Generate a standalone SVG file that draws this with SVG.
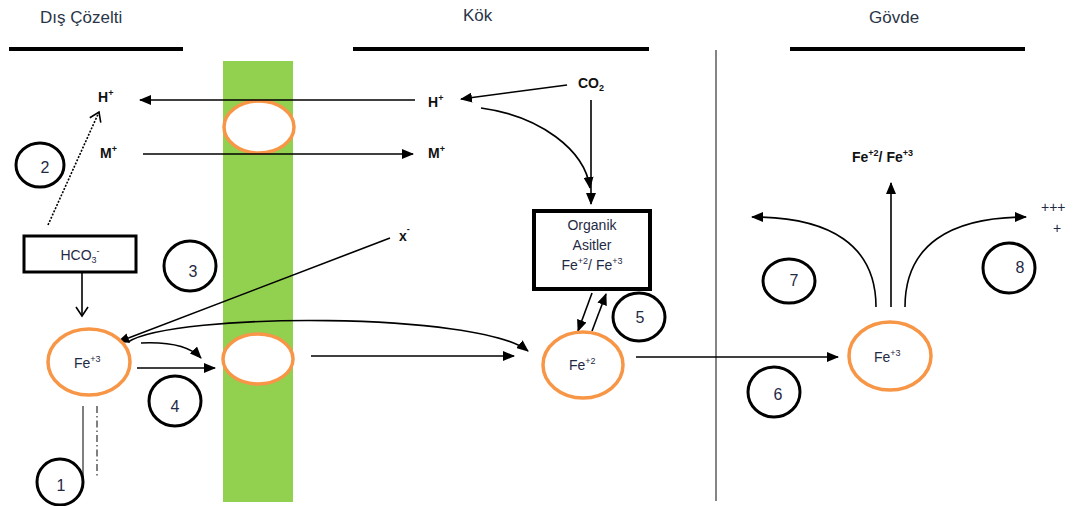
<svg xmlns="http://www.w3.org/2000/svg" width="1073" height="506" viewBox="0 0 1073 506">
<defs>
<style>
.title{font-family:"Liberation Sans",Arial,sans-serif;font-size:17px;fill:#2a3547}
.lbl{font-family:"Liberation Sans",Arial,sans-serif;font-size:14px;fill:#1f2a44}
.bold{font-family:"Liberation Sans",Arial,sans-serif;font-size:14px;font-weight:bold;fill:#111}
.num{font-family:"Liberation Sans",Arial,sans-serif;font-size:16px;fill:#1f2a44;text-anchor:middle}
.sup{font-size:9px}
.hdr{stroke:#000;stroke-width:4}
.cell{fill:#fff;stroke:#f79646;stroke-width:3.5}
.ring{fill:none;stroke:#000;stroke-width:3}
.ln{fill:none;stroke:#000;stroke-width:1.6}
.box{fill:#fff;stroke:#000}
</style>
<marker id="ah" markerUnits="userSpaceOnUse" markerWidth="12" markerHeight="10" refX="11" refY="5" orient="auto">
<path d="M0,0 L12,5 L0,10 z" fill="#000"/>
</marker>
<marker id="open" markerUnits="userSpaceOnUse" markerWidth="12" markerHeight="14" refX="10" refY="7" orient="auto">
<path d="M1,1 L10,7 L1,13" fill="none" stroke="#000" stroke-width="1.6"/>
</marker>
</defs>
<rect width="1073" height="506" fill="#fff"/>

<g id="headers">
<text class="title" x="40" y="23">Dış Çözelti</text>
<text class="title" x="463" y="21">Kök</text>
<text class="title" x="869" y="23">Gövde</text>
<line class="hdr" x1="9" y1="49" x2="183" y2="49"/>
<line class="hdr" x1="353" y1="49" x2="649" y2="49"/>
<line class="hdr" x1="790" y1="49" x2="1025" y2="49"/>
<line x1="716" y1="50" x2="716" y2="501" stroke="#333" stroke-width="1.2"/>
</g>

<g id="membrane">
<rect x="223" y="61" width="70" height="441" fill="#92d050"/>
</g>

<g id="channel-top"><ellipse class="cell" cx="259" cy="127" rx="35" ry="26"/></g>
<g id="channel-bottom"><ellipse class="cell" cx="258" cy="359" rx="35" ry="25"/></g>

<g id="connectors">
<line class="ln" x1="415" y1="100" x2="140" y2="100" marker-end="url(#ah)"/>
<line class="ln" x1="143" y1="154" x2="413" y2="154" marker-end="url(#ah)"/>
<line class="ln" x1="567" y1="85" x2="461" y2="99" marker-end="url(#ah)"/>
<path class="ln" d="M481,108 C540,116 585,150 590,188" marker-end="url(#ah)"/>
<line class="ln" x1="591" y1="100" x2="591" y2="204" marker-end="url(#ah)"/>
<line class="ln" x1="390" y1="238" x2="118" y2="342" marker-end="url(#ah)"/>
<line x1="48" y1="225" x2="99" y2="112" stroke="#000" stroke-width="1.6" stroke-dasharray="2,1.5" marker-end="url(#open)"/>
<line class="ln" x1="82" y1="272" x2="82" y2="316" marker-end="url(#open)"/>
<path class="ln" d="M141,343 Q185,341 201,358" marker-end="url(#ah)"/>
<line class="ln" x1="137" y1="368" x2="215" y2="368" marker-end="url(#ah)"/>
<path class="ln" d="M128,342 C175,312 480,312 528,351" marker-end="url(#ah)"/>
<line class="ln" x1="311" y1="356" x2="514" y2="356" marker-end="url(#ah)"/>
<line class="ln" x1="592" y1="293" x2="578" y2="331" marker-end="url(#ah)"/>
<line class="ln" x1="592" y1="331" x2="606" y2="294" marker-end="url(#ah)"/>
<line class="ln" x1="636" y1="357" x2="838" y2="357" marker-end="url(#ah)"/>
<line class="ln" x1="891" y1="307" x2="891" y2="183" marker-end="url(#ah)"/>
<path class="ln" d="M876,307 C876,245 830,217 752,217" marker-end="url(#ah)"/>
<path class="ln" d="M905,307 C905,245 950,217 1026,217" marker-end="url(#ah)"/>
<line x1="83" y1="406" x2="83" y2="477" stroke="#000" stroke-width="1"/>
<line x1="97" y1="406" x2="97" y2="476" stroke="#000" stroke-width="1" stroke-dasharray="7,3,1.5,3"/>
</g>

<g id="ion-labels">
<text class="bold" x="98" y="102">H<tspan class="sup" dy="-6">+</tspan></text>
<text class="bold" x="100" y="158">M<tspan class="sup" dy="-6">+</tspan></text>
<text class="bold" x="428" y="107">H<tspan class="sup" dy="-6">+</tspan></text>
<text class="bold" x="428" y="158">M<tspan class="sup" dy="-6">+</tspan></text>
<text class="bold" x="578" y="88">CO<tspan class="sup" dy="3">2</tspan></text>
<text class="bold" x="399" y="241">x<tspan class="sup" dy="-9">-</tspan></text>
<text class="bold" x="852" y="162" font-size="13">Fe<tspan class="sup" dy="-6">+2</tspan><tspan dy="6">/ Fe</tspan><tspan class="sup" dy="-6">+3</tspan></text>
<text class="lbl" x="1041" y="212" font-size="15" fill="#111">+++</text>
<text class="lbl" x="1053" y="233" font-size="15" fill="#111">+</text>
</g>

<g id="hco3">
<rect class="box" x="24" y="236" width="112" height="36" stroke-width="3"/>
<text class="lbl" x="80" y="260" text-anchor="middle">HCO<tspan class="sup" dy="3">3</tspan><tspan class="sup" dy="-9">-</tspan></text>
</g>

<g id="organik">
<rect class="box" x="534" y="211" width="116" height="78" stroke-width="4"/>
<text class="lbl" x="592" y="230" text-anchor="middle">Organik</text>
<text class="lbl" x="592" y="250" text-anchor="middle">Asitler</text>
<text class="lbl" x="592" y="270" text-anchor="middle">Fe<tspan class="sup" dy="-6">+2</tspan><tspan dy="6">/ Fe</tspan><tspan class="sup" dy="-6">+3</tspan></text>
</g>

<g id="fe3-left">
<ellipse class="cell" cx="89" cy="362" rx="41" ry="33"/>
<text class="lbl" x="74" y="368">Fe<tspan class="sup" dy="-6">+3</tspan></text>
</g>
<g id="fe2">
<ellipse class="cell" cx="583" cy="365" rx="40" ry="33"/>
<text class="lbl" x="569" y="370">Fe<tspan class="sup" dy="-6">+2</tspan></text>
</g>
<g id="fe3-right">
<ellipse class="cell" cx="890" cy="356" rx="41" ry="34"/>
<text class="lbl" x="874" y="362">Fe<tspan class="sup" dy="-6">+3</tspan></text>
</g>

<g id="step1"><ellipse class="ring" cx="60" cy="482" rx="23" ry="23"/><text class="num" x="61" y="491">1</text></g>
<g id="step2"><ellipse class="ring" cx="40" cy="165" rx="24" ry="22"/><text class="num" x="45" y="173">2</text></g>
<g id="step3"><ellipse class="ring" cx="190" cy="266" rx="26" ry="25"/><text class="num" x="193" y="277">3</text></g>
<g id="step4"><ellipse class="ring" cx="175" cy="401" rx="26" ry="25"/><text class="num" x="175" y="412">4</text></g>
<g id="step5"><ellipse class="ring" cx="639" cy="317" rx="26" ry="24"/><text class="num" x="640" y="323">5</text></g>
<g id="step6"><ellipse class="ring" cx="774" cy="392" rx="26" ry="25"/><text class="num" x="778" y="400">6</text></g>
<g id="step7"><ellipse class="ring" cx="789" cy="281" rx="26" ry="22"/><text class="num" x="794" y="286">7</text></g>
<g id="step8"><ellipse class="ring" cx="1009" cy="268" rx="26" ry="25"/><text class="num" x="1020" y="273">8</text></g>
</svg>
